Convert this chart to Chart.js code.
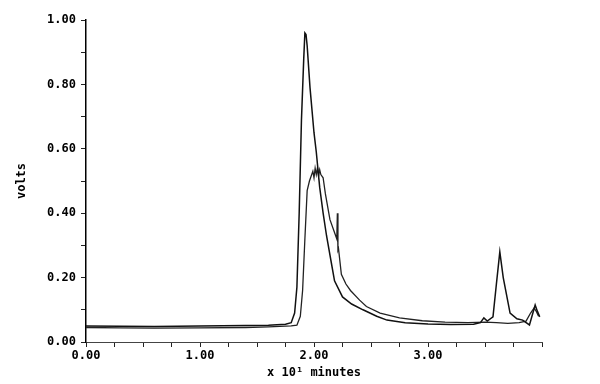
<!DOCTYPE html>
<html>
<head>
<meta charset="utf-8">
<script src="https://cdn.jsdelivr.net/npm/chart.js@4.4.1/dist/chart.umd.min.js"></script>
<style>
  html, body { margin: 0; padding: 0; background: #fff; }
  canvas { display: block; }
</style>
</head>
<body>
<canvas id="c" width="600" height="384"></canvas>
<script>
// Trace A (tall peak) — time in x10 minutes, signal in volts
const timeA = [0.00, 0.30, 0.60, 1.00, 1.40, 1.60, 1.75, 1.80, 1.83, 1.85, 1.87, 1.89, 1.91, 1.92, 1.93, 1.94, 1.965, 2.00, 2.02, 2.05, 2.08, 2.11, 2.15, 2.18, 2.25, 2.33, 2.43, 2.55, 2.64, 2.80, 3.00, 3.20, 3.40, 3.46, 3.49, 3.52, 3.57, 3.60, 3.63, 3.66, 3.72, 3.78, 3.83, 3.89, 3.92, 3.94, 3.96, 3.98];
const voltsA = [0.050, 0.049, 0.048, 0.050, 0.051, 0.052, 0.055, 0.060, 0.090, 0.170, 0.400, 0.690, 0.880, 0.960, 0.955, 0.920, 0.790, 0.650, 0.590, 0.480, 0.400, 0.330, 0.250, 0.190, 0.140, 0.118, 0.100, 0.080, 0.068, 0.060, 0.056, 0.054, 0.055, 0.060, 0.075, 0.065, 0.078, 0.180, 0.280, 0.200, 0.090, 0.072, 0.068, 0.053, 0.090, 0.115, 0.095, 0.078];

// Trace B (broad peak with shoulder spike)
const timeB = [0.00, 0.30, 0.60, 1.00, 1.40, 1.60, 1.80, 1.85, 1.88, 1.90, 1.92, 1.94, 1.96, 1.99, 2.00, 2.01, 2.02, 2.03, 2.04, 2.05, 2.06, 2.08, 2.10, 2.14, 2.18, 2.20, 2.205, 2.21, 2.215, 2.24, 2.28, 2.32, 2.40, 2.46, 2.58, 2.75, 2.95, 3.15, 3.35, 3.50, 3.60, 3.70, 3.80, 3.86, 3.90, 3.93, 3.95, 3.97];
const voltsB = [0.045, 0.044, 0.043, 0.044, 0.045, 0.047, 0.050, 0.052, 0.080, 0.160, 0.320, 0.470, 0.500, 0.530, 0.510, 0.540, 0.520, 0.540, 0.515, 0.535, 0.520, 0.510, 0.460, 0.380, 0.340, 0.320, 0.400, 0.285, 0.290, 0.210, 0.180, 0.160, 0.130, 0.110, 0.090, 0.075, 0.066, 0.062, 0.060, 0.062, 0.060, 0.058, 0.060, 0.065, 0.090, 0.105, 0.095, 0.080];

const xTickLabels = ["0.00", "1.00", "2.00", "3.00"];
const yTickLabels = ["0.00", "0.20", "0.40", "0.60", "0.80", "1.00"];

const toPts = (xs, ys) => xs.map((x, i) => ({ x: x, y: ys[i] }));

const tickFont = { family: "'DejaVu Sans Mono', monospace", size: 12, weight: 'bold' };

new Chart(document.getElementById('c'), {
  type: 'line',
  data: {
    datasets: [
      { data: toPts(timeA, voltsA), borderColor: '#111', borderWidth: 1.5, pointRadius: 0, tension: 0, fill: false },
      { data: toPts(timeB, voltsB), borderColor: '#222', borderWidth: 1.3, pointRadius: 0, tension: 0, fill: false }
    ]
  },
  options: {
    responsive: false,
    devicePixelRatio: 1,
    animation: false,
    layout: { padding: { left: 0, right: 58, top: 20, bottom: 0 } },
    plugins: { legend: { display: false }, tooltip: { enabled: false } },
    scales: {
      x: {
        type: 'linear',
        min: 0, max: 4.0,
        afterFit: s => { s.height = 42; },
        border: { display: true, color: '#444', width: 1 },
        grid: { drawOnChartArea: false, drawTicks: true, tickLength: 5, color: '#222' },
        ticks: {
          stepSize: 0.25,
          autoSkip: false,
          maxRotation: 0,
          padding: 2,
          color: '#000',
          font: tickFont,
          callback: v => {
            const i = Math.round(v);
            return Math.abs(v - i) < 1e-6 && xTickLabels[i] !== undefined ? xTickLabels[i] : '';
          }
        },
        title: {
          display: true,
          text: 'x 10\u00B9 minutes',
          color: '#000',
          font: { family: "'DejaVu Sans Mono', monospace", size: 12, weight: 'bold' },
          padding: { top: 0, bottom: 4 }
        }
      },
      y: {
        min: 0, max: 1.0,
        afterFit: s => { s.width = 86; },
        border: { display: true, color: '#000', width: 1.5 },
        grid: { drawOnChartArea: false, drawTicks: true, tickLength: 5, color: '#222' },
        ticks: {
          stepSize: 0.1,
          autoSkip: false,
          padding: 5,
          color: '#000',
          font: tickFont,
          callback: v => {
            const k = Math.round(v * 10);
            return (k % 2 === 0) ? yTickLabels[k / 2] : '';
          }
        },
        title: {
          display: true,
          text: 'volts',
          color: '#000',
          font: { family: "'DejaVu Sans Mono', monospace", size: 12, weight: 'bold' },
          padding: { top: 15, bottom: 0 }
        }
      }
    }
  }
});
</script>
</body>
</html>
